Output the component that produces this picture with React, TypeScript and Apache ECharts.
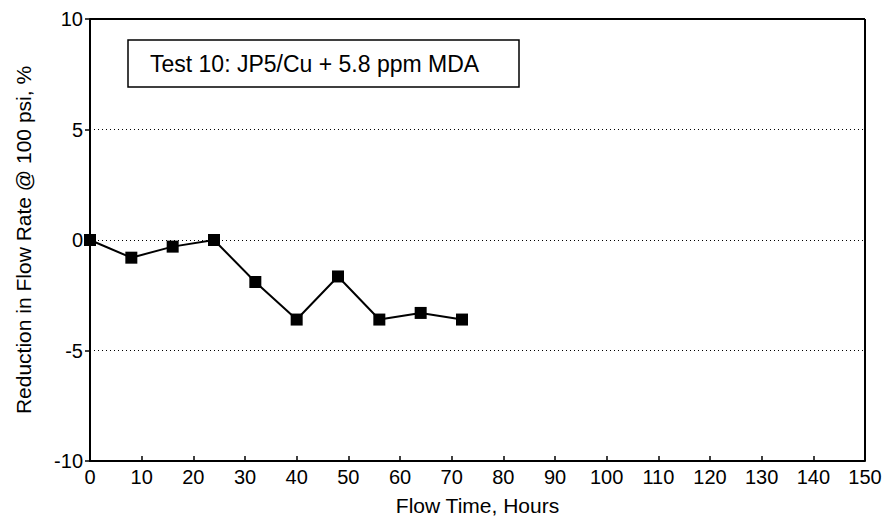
import React, { useEffect, useRef } from "react";
import * as echarts from "echarts";

// Flow time (hours) and reduction in flow rate (%) for Test 10
const flowHours = [0, 8, 16, 24, 32, 40, 48, 56, 64, 72];
const flowReduction = [0, -0.8, -0.3, 0, -1.9, -3.6, -1.65, -3.6, -3.3, -3.6];

const xTicks = { min: 0, max: 150, interval: 10 };
const yTicks = { min: -10, max: 10, interval: 5 };

const legendLabel = "Test 10: JP5/Cu + 5.8 ppm MDA";
const xTitle = "Flow Time, Hours";
const yTitle = "Reduction in Flow Rate @ 100 psi, %";

const FONT = "'Liberation Sans', Arial, Helvetica, sans-serif";

export default function App() {
  const ref = useRef<HTMLDivElement>(null);

  useEffect(() => {
    if (!ref.current) return;
    const chart = echarts.init(ref.current, null, { renderer: "svg" });

    const points = flowHours.map((h, i) => [h, flowReduction[i]]);

    chart.setOption({
      animation: false,
      backgroundColor: "#ffffff",
      textStyle: { fontFamily: FONT, color: "#000" },
      grid: { left: 90, right: 28, top: 19, bottom: 71, containLabel: false },
      xAxis: {
        type: "value",
        min: xTicks.min,
        max: xTicks.max,
        interval: xTicks.interval,
        name: xTitle,
        nameLocation: "middle",
        nameGap: 34,
        nameTextStyle: { fontSize: 21, color: "#000", fontFamily: FONT },
        axisLine: { show: true, onZero: false, lineStyle: { color: "#000", width: 2 } },
        axisTick: { show: true, inside: true, length: 5, lineStyle: { color: "#000", width: 1.5 } },
        axisLabel: { fontSize: 20, color: "#000", margin: 6, fontFamily: FONT },
        splitLine: { show: false },
      },
      yAxis: {
        type: "value",
        min: yTicks.min,
        max: yTicks.max,
        interval: yTicks.interval,
        name: yTitle,
        nameLocation: "middle",
        nameGap: 56,
        nameTextStyle: { fontSize: 21, color: "#000", fontFamily: FONT },
        axisLine: { show: true, onZero: false, lineStyle: { color: "#000", width: 2 } },
        axisTick: { show: true, inside: false, length: 5, lineStyle: { color: "#000", width: 1.5 } },
        axisLabel: { fontSize: 20, color: "#000", margin: 7, fontFamily: FONT },
        splitLine: {
          show: true,
          lineStyle: { color: "#000", width: 1, type: [1, 3] },
        },
      },
      series: [
        {
          type: "line",
          data: points,
          symbol: "rect",
          symbolSize: 12,
          lineStyle: { color: "#000", width: 2 },
          itemStyle: { color: "#000" },
          z: 5,
        },
      ],
      graphic: [
        // plot frame: top and right edges
        {
          type: "line",
          shape: { x1: 90, y1: 19, x2: 865, y2: 19 },
          style: { stroke: "#000", lineWidth: 2 },
          z: 10,
        },
        {
          type: "line",
          shape: { x1: 865, y1: 19, x2: 865, y2: 461 },
          style: { stroke: "#000", lineWidth: 2 },
          z: 10,
        },
        // annotation box
        {
          type: "rect",
          shape: { x: 128, y: 40, width: 391, height: 47 },
          style: { fill: "#fff", stroke: "#000", lineWidth: 1.5 },
          z: 10,
        },
        {
          type: "text",
          x: 150,
          y: 64,
          style: {
            text: legendLabel,
            fontSize: 23,
            fontFamily: FONT,
            fill: "#000",
            textVerticalAlign: "middle",
            verticalAlign: "middle",
          },
          z: 11,
        },
      ],
    });

    return () => chart.dispose();
  }, []);

  return <div ref={ref} style={{ width: 893, height: 532, position: "absolute", left: 0, top: 0 }} />;
}
